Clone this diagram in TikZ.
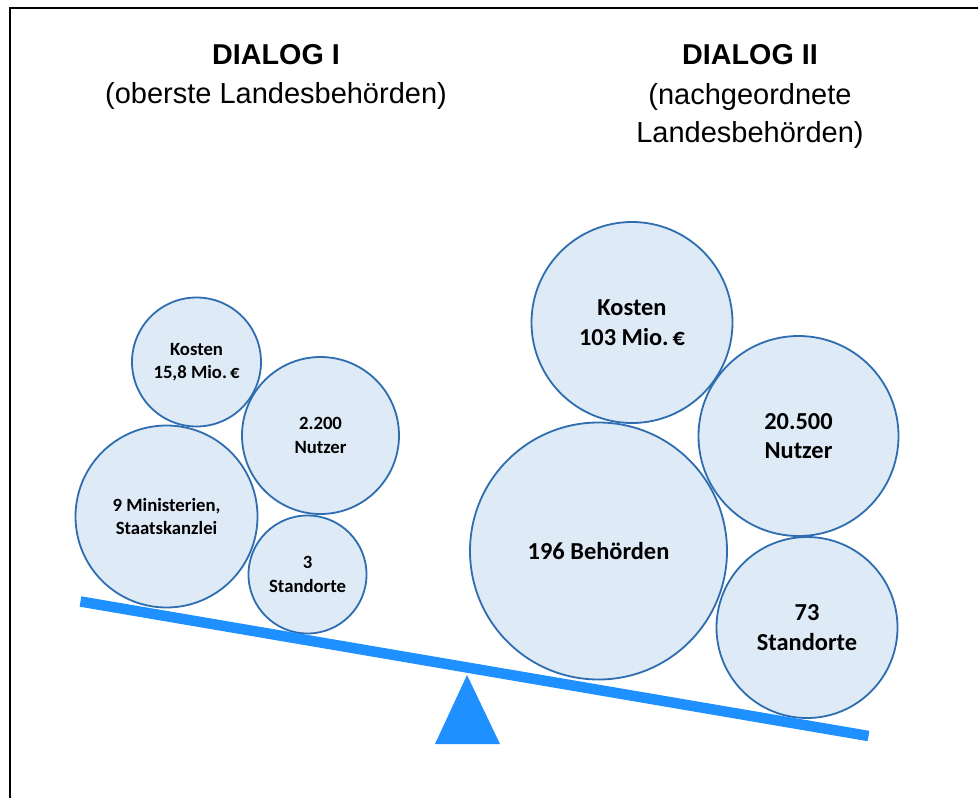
\documentclass[tikz,border=0pt]{standalone}
\usepackage{fontspec}
\setmainfont{Liberation Sans}
\newfontfamily\circfont{Carlito}
\definecolor{circfill}{HTML}{DEEAF6}
\definecolor{circline}{HTML}{2E6DB0}
\definecolor{beamblue}{HTML}{1E90FF}
\newcommand{\eurosign}{\kern-0.14em€}
\begin{document}
\begin{tikzpicture}[x=1pt,y=-1pt,
  bubble/.style={circle, draw=circline, line width=1.8pt, fill=circfill, inner sep=0pt, align=center},
  smalltext/.style={font=\circfont\bfseries\fontsize{18.7}{23.5}\selectfont},
  bigtext/.style={font=\circfont\bfseries\fontsize{24.4}{29.5}\selectfont},
  titletext/.style={font=\bfseries\fontsize{28.7}{34}\selectfont, inner sep=0pt},
  subtext/.style={font=\fontsize{29}{37.5}\selectfont, inner sep=0pt, align=center}]
\useasboundingbox (0,0) rectangle (978,798);
\fill[white] (0,0) rectangle (978,798);
% frame (left and top edges)
\draw[line width=2.3pt] (9.8,800) -- (9.8,7.8) -- (980,7.8);
% titles
\node[titletext] (t1) at (276,55) {DIALOG I};
\node[subtext] (s1) at (276,96) {(oberste Landesbehörden)};
\node[titletext] (t2) at (750,55) {DIALOG II};
\node[subtext] (s2) at (750,116) {(nachgeordnete\\Landesbehörden)};
% left circles
\node[bubble, smalltext, minimum size=129pt] (k1) at (196.5,362) {Kosten\\15,8 Mio. \eurosign};
\node[bubble, smalltext, minimum size=157pt] (n1) at (320.5,435.5) {2.200\\Nutzer};
\node[bubble, smalltext, minimum size=182pt] (m1) at (166.5,516.5) {9 Ministerien,\\Staatskanzlei};
\node[bubble, smalltext, minimum size=118pt] (o1) at (307.5,574.5) {3\\Standorte};
% right circles
\node[bubble, bigtext, minimum size=201pt] (k2) at (632,322.5) {Kosten\\103 Mio. \eurosign};
\node[bubble, bigtext, minimum size=200pt] (n2) at (798.5,436) {20.500\\Nutzer};
\node[bubble, bigtext, minimum size=257pt] (b2) at (598.5,551) {196 Behörden};
\node[bubble, bigtext, minimum size=181pt] (o2) at (807,627.5) {73\\Standorte};
% seesaw
\coordinate (bl) at (80.5,601.5);
\coordinate (br) at (868.5,736);
\draw[beamblue, line width=10.5pt] (bl) -- (br);
\coordinate (apex) at (467,675);
\fill[beamblue] (apex) -- (500,744) -- (435,744) -- cycle;
\end{tikzpicture}
\end{document}
